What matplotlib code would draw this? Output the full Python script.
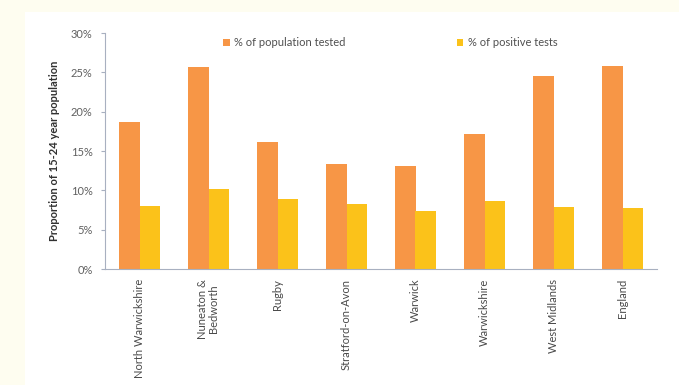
import matplotlib
matplotlib.use("Agg")
import matplotlib.pyplot as plt
import numpy as np
from matplotlib.patches import Rectangle
from matplotlib.ticker import FuncFormatter

categories = ["North Warwickshire", "Nuneaton &\nBedworth", "Rugby", "Stratford-on-Avon",
              "Warwick", "Warwickshire", "West Midlands", "England"]
tested = [18.7, 25.7, 16.2, 13.3, 13.1, 17.2, 24.5, 25.8]
positive = [8.0, 10.2, 8.9, 8.3, 7.4, 8.7, 7.9, 7.8]
yticks = [0, 5, 10, 15, 20, 25, 30]

plt.rcParams['font.family'] = ['Lato', 'DejaVu Sans']

fig = plt.figure(figsize=(6.79, 3.85), dpi=100)
fig.patch.set_facecolor('#fefdf0')
fig.patches.append(Rectangle((25/679, 0), 1 - 25/679, 1 - 12/385, transform=fig.transFigure,
                             facecolor='white', edgecolor='none', zorder=-10))

ax = fig.add_axes([105/679, 1 - 269/385, (657 - 105)/679, (269 - 33)/385])
ax.set_facecolor('none')
ax.set_zorder(5)

x = np.arange(len(categories))
w = 0.29
ax.bar(x - w/2, tested, width=w, color='#f79646', label='% of population tested', zorder=2)
ax.bar(x + w/2, positive, width=w, color='#fbc21a', label='% of positive tests', zorder=2)

ax.set_xlim(-0.5, len(categories) - 0.5)
ax.set_ylim(0, 30)
ax.set_yticks(yticks)
ax.yaxis.set_major_formatter(FuncFormatter(lambda v, p: f"{int(v)}%"))
ax.set_xticks(x)
ax.set_xticklabels(categories, rotation=90, fontsize=8, color='#4a4a4a', va='top', ha='center',
                   linespacing=1.0)
ax.tick_params(axis='x', length=0, pad=7)
ax.tick_params(axis='y', labelsize=8, labelcolor='#606060', length=3, color='#a8b0c0', pad=6)

for s in ['top', 'right']:
    ax.spines[s].set_visible(False)
for s in ['left', 'bottom']:
    ax.spines[s].set_color('#a8b0c0')
    ax.spines[s].set_linewidth(0.8)

ax.set_ylabel('Proportion of 15-24 year population', fontsize=8, fontweight='bold', color='#303030', labelpad=8)

leg = ax.legend(loc='center left', bbox_to_anchor=(0.214, 0.958), ncol=2, frameon=False, fontsize=8,
                borderpad=0, borderaxespad=0,
                handlelength=0.6, handleheight=0.6, handletextpad=0.4, columnspacing=10.0)
for t in leg.get_texts():
    t.set_color('#505050')

fig.savefig('out.png', dpi=100, facecolor=fig.get_facecolor())
